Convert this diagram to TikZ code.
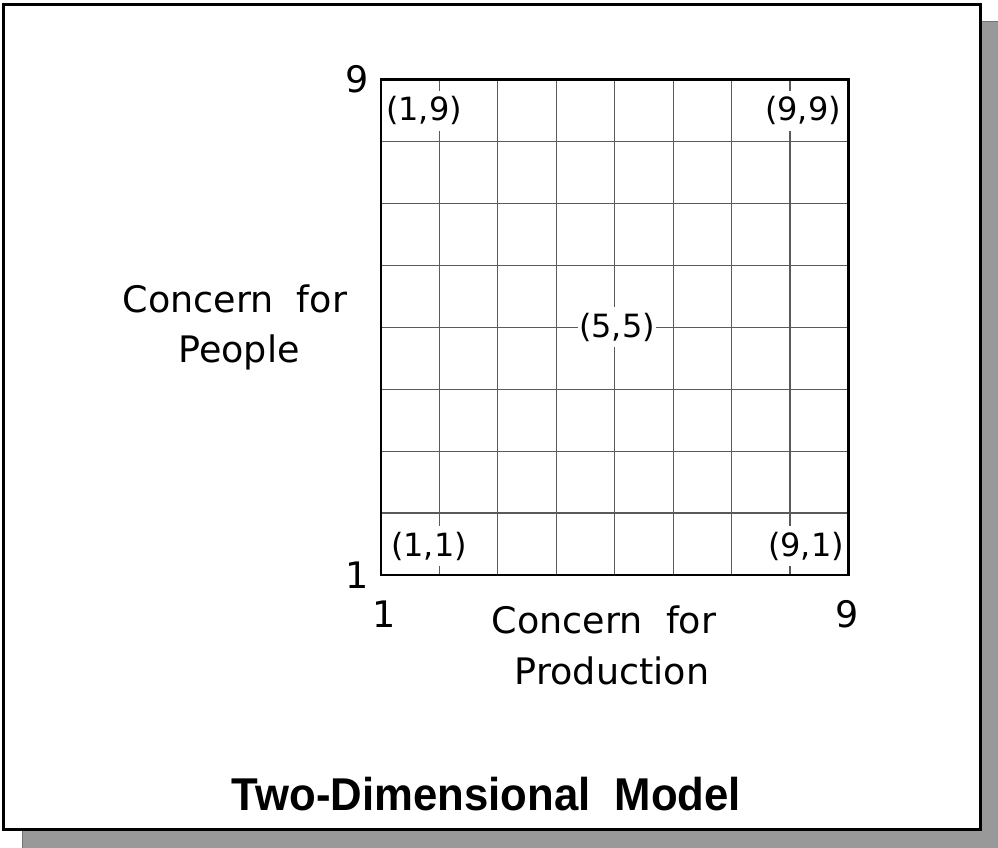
\documentclass[tikz,border=0pt]{standalone}
\usepackage{fontspec}
\setmainfont{DejaVu Sans}
\newfontfamily\titlefont[FakeStretch=0.95]{Liberation Sans}
\definecolor{shadowgray}{HTML}{999999}
\definecolor{gridgray}{HTML}{5A5A5A}
\tikzset{
  gridline/.style={draw=gridgray, line width=1.2pt},
  frameline/.style={draw=black, line width=2.6pt},
  pointlabel/.style={font=\fontsize{32}{32}\selectfont, fill=white, inner xsep=1.5pt, inner ysep=6pt, anchor=base},
  axisnum/.style={font=\fontsize{36.5}{36.5}\selectfont, inner sep=0pt, anchor=base},
  axistext/.style={font=\fontsize{36.5}{36.5}\selectfont, inner sep=0pt, anchor=base},
  titletext/.style={font=\titlefont\bfseries\fontsize{46}{46}\selectfont, inner sep=0pt, anchor=base}
}
\begin{document}
\begin{tikzpicture}[x=1pt,y=-1pt]
\useasboundingbox (0,0) rectangle (998,848);
% shadow and outer box
\fill[shadowgray, draw=black!55, line width=1pt] (22,22) rectangle (998,848);
\draw[line width=3pt, fill=white] (3.2,4.2) rectangle (980.5,829);
% grid
\foreach \i in {1,...,7} {
  \draw[gridline] ({381+58.44*\i},79.5) -- ({381+58.44*\i},575);
  \draw[gridline] (381,{79.5+61.94*\i}) -- (848.5,{79.5+61.94*\i});
}
\draw[frameline] (381,79.5) rectangle (848.5,575);
% point labels
\node[pointlabel] (p19) at (424,121) {(1,9)};
\node[pointlabel] (p99) at (803,121) {(9,9)};
\node[pointlabel] (p55) at (617,337) {(5,5)};
\node[pointlabel] (p11) at (429,556) {(1,1)};
\node[pointlabel] (p91) at (806,556) {(9,1)};
% axis numbers
\node[axisnum] (ytop) at (357,93) {9};
\node[axisnum] (ybot) at (357.5,588) {1};
\node[axisnum] (xleft) at (384,627) {1};
\node[axisnum] (xright) at (847.5,627) {9};
% axis texts
\node[axistext] (ylab1) at (235,312) {Concern~ for};
\node[axistext] (ylab2) at (239,362) {People};
\node[axistext] (xlab1) at (604,633) {Concern~ for};
\node[axistext] (xlab2) at (612,684) {Production};
% title
\node[titletext] (title) at (486.5,810) {Two-Dimensional~ Model};
\end{tikzpicture}
\end{document}
